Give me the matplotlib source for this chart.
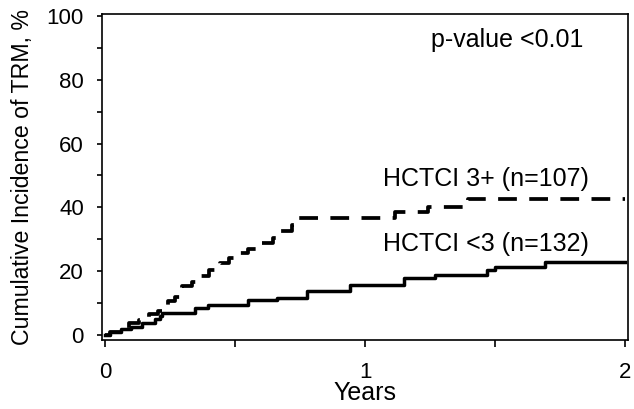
import matplotlib
matplotlib.use('Agg')
import matplotlib.pyplot as plt

plt.rcParams['font.family'] = ['Liberation Sans', 'DejaVu Sans']

# HCTCI 3+ (n=107), dashed
t_high = [0.0, 0.02, 0.06, 0.09, 0.13, 0.17, 0.205, 0.24, 0.27, 0.295, 0.335, 0.365,
          0.40, 0.44, 0.475, 0.51, 0.55, 0.60, 0.645, 0.66, 0.72, 0.737, 1.115, 1.24,
          1.394, 2.0]
ci_high = [0.0, 1.0, 2.0, 3.7, 4.7, 6.5, 7.4, 10.5, 12.0, 15.3, 16.5, 18.4,
           20.5, 22.6, 24.2, 25.8, 27.0, 28.7, 30.5, 32.6, 34.5, 36.5, 38.4, 40.2,
           42.6, 42.6]

# HCTCI <3 (n=132), solid
t_low = [0.0, 0.02, 0.06, 0.10, 0.14, 0.19, 0.21, 0.218, 0.346, 0.397, 0.551, 0.66,
         0.776, 0.942, 1.147, 1.269, 1.468, 1.50, 1.692, 2.0]
ci_low = [0.0, 1.0, 2.0, 2.6, 3.7, 5.0, 6.0, 6.8, 8.4, 9.5, 10.8, 11.6,
          13.9, 15.5, 17.7, 18.9, 20.3, 21.4, 22.8, 22.8]

fig = plt.figure(figsize=(6.34, 4.09), dpi=100)
ax = fig.add_axes([102 / 634, 1 - 340 / 409, (628 - 102) / 634, (340 - 14) / 409])

ax.plot(t_high, ci_high, drawstyle='steps-post', color='black', lw=2.7,
        dashes=(5, 3.3))
ax.plot(t_low, ci_low, drawstyle='steps-post', color='black', lw=2.5)

ax.set_xlim(-0.012, 2.01)
ax.set_ylim(-1.6, 100.6)
ax.set_xticks([0, 0.5, 1, 1.5, 2])
ax.set_xticklabels(['0', '', '1', '', '2'])
ax.set_yticks(range(0, 101, 10))
ax.set_yticklabels([str(v) if v % 20 == 0 else '' for v in range(0, 101, 10)])
ax.tick_params(axis='x', direction='out', length=5, width=1.2, labelsize=16, pad=10.5)
ax.tick_params(axis='y', direction='out', length=3.5, width=1.2, labelsize=16, pad=9.5)
for s in ax.spines.values():
    s.set_linewidth(1.2)

ax.set_xlabel('Years', fontsize=18, labelpad=-1)
ax.set_ylabel('Cumulative Incidence of TRM, %', fontsize=16.7)
ax.yaxis.set_label_coords(-0.129, 0.5)

ax.text(1.546, 92.5, 'p-value <0.01', fontsize=18, ha='center', va='center')
ax.text(1.07, 49, 'HCTCI 3+ (n=107)', fontsize=18, ha='left', va='center')
ax.text(1.07, 28.4, 'HCTCI <3 (n=132)', fontsize=18, ha='left', va='center')

fig.savefig('out.png', dpi=100)
